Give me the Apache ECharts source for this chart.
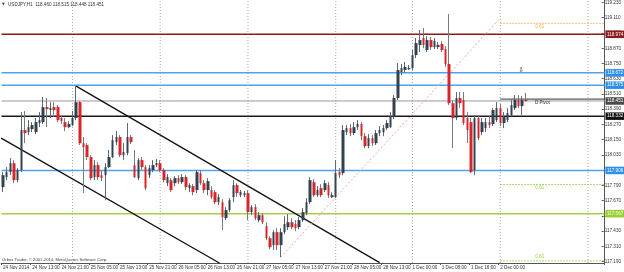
<!DOCTYPE html>
<html><head><meta charset="utf-8">
<script src="https://cdn.jsdelivr.net/npm/echarts@6/dist/echarts.min.js"></script>
<style>html,body{margin:0;padding:0;background:#fff}#c{width:624px;height:272px}</style>
</head><body><div id="c"></div>
<script>
// ---- data (USDJPY H1) ----
const opens = [117.775,117.854,117.893,117.963,117.830,117.909,118.223,118.207,118.230,118.207,
118.278,118.285,118.403,118.380,118.403,118.403,118.317,118.285,118.246,118.262,
118.317,118.442,118.120,118.105,118.011,117.854,117.948,117.869,117.869,117.932,
118.011,118.128,118.168,118.026,118.042,118.168,117.948,117.846,117.987,117.932,
117.869,117.909,117.948,117.963,117.909,117.806,117.830,117.806,117.846,117.814,
117.854,117.767,117.783,117.752,117.885,117.806,117.752,117.752,117.736,117.657,
117.657,117.532,117.595,117.697,117.791,117.712,117.712,117.728,117.579,117.618,
117.516,117.555,117.469,117.375,117.320,117.422,117.320,117.422,117.461,117.500,
117.485,117.461,117.516,117.571,117.657,117.814,117.712,117.767,117.752,117.791,
117.697,117.697,117.893,117.885,118.207,118.238,118.199,118.246,118.270,118.175,
118.097,118.160,118.120,118.199,118.207,118.238,118.246,118.325,118.474,118.678,
118.694,118.701,118.709,118.811,118.890,118.945,118.851,118.929,118.874,118.874,
118.898,118.858,118.741,118.434,118.317,118.474,118.458,118.317,118.285,117.909,
118.317,118.207,118.238,118.285,118.270,118.301,118.395,118.278,118.301,118.340,
118.395,118.458,118.411,118.460];
const closes = [117.869,117.893,117.963,117.830,117.909,118.223,118.199,118.246,118.262,118.285,
118.301,118.403,118.387,118.395,118.380,118.301,118.293,118.246,118.270,118.317,
118.442,118.120,118.089,118.011,117.846,117.948,117.854,117.846,117.932,118.011,
118.144,118.168,118.026,118.050,118.168,118.128,117.854,117.987,117.932,117.767,
117.924,117.948,117.963,117.909,117.830,117.854,117.752,117.846,117.814,117.854,
117.775,117.791,117.736,117.893,117.806,117.752,117.822,117.697,117.657,117.697,
117.540,117.595,117.673,117.791,117.728,117.736,117.728,117.579,117.618,117.532,
117.555,117.500,117.375,117.304,117.422,117.320,117.422,117.485,117.500,117.461,
117.453,117.516,117.579,117.657,117.830,117.712,117.752,117.712,117.806,117.712,
117.712,117.885,117.869,118.223,118.238,118.199,118.246,118.270,118.175,118.097,
118.160,118.120,118.199,118.223,118.238,118.278,118.325,118.474,118.694,118.709,
118.717,118.709,118.811,118.905,118.929,118.890,118.929,118.874,118.921,118.890,
118.851,118.741,118.434,118.317,118.474,118.434,118.278,118.223,117.893,118.317,
118.160,118.285,118.285,118.262,118.380,118.395,118.278,118.325,118.356,118.419,
118.458,118.411,118.458,118.451];
const lows = [117.736,117.830,117.869,117.806,117.814,117.893,118.120,118.183,118.207,118.191,
118.246,118.270,118.246,118.317,118.325,118.285,118.270,118.215,118.238,118.254,
118.301,118.105,117.728,117.987,117.830,117.830,117.830,117.822,117.673,117.924,
118.003,118.105,118.011,117.987,118.026,118.113,117.846,117.830,117.909,117.752,
117.846,117.893,117.932,117.893,117.814,117.783,117.736,117.783,117.799,117.799,
117.752,117.736,117.712,117.728,117.791,117.728,117.712,117.681,117.642,117.634,
117.438,117.516,117.579,117.657,117.697,117.697,117.697,117.516,117.555,117.516,
117.500,117.485,117.359,117.288,117.281,117.281,117.226,117.406,117.438,117.445,
117.430,117.445,117.500,117.555,117.642,117.697,117.697,117.697,117.736,117.689,
117.689,117.689,117.846,117.869,118.183,118.175,118.183,118.223,118.144,118.081,
118.081,118.097,118.105,118.175,118.175,118.223,118.238,118.309,118.458,118.654,
118.670,118.694,118.694,118.788,118.835,118.866,118.835,118.851,118.858,118.858,
118.835,118.717,118.419,118.081,118.301,118.395,118.262,118.120,117.885,117.869,
118.144,118.183,118.207,118.238,118.254,118.285,118.254,118.238,118.285,118.332,
118.380,118.395,118.340,118.448];
const highs = [117.893,117.932,118.003,117.987,117.924,118.364,118.372,118.301,118.285,118.317,
118.364,118.482,118.474,118.442,118.442,118.419,118.340,118.317,118.293,118.372,
118.568,118.450,118.168,118.120,118.026,117.987,117.971,117.909,117.963,118.066,
118.183,118.215,118.183,118.120,118.278,118.183,118.066,118.003,118.011,117.948,
117.948,117.987,117.995,117.987,117.924,117.877,117.846,117.861,117.869,117.877,
117.869,117.806,117.799,117.909,117.909,117.830,117.846,117.783,117.752,117.720,
117.681,117.618,117.689,117.830,117.806,117.752,117.744,117.752,117.634,117.642,
117.579,117.571,117.500,117.390,117.438,117.453,117.453,117.547,117.563,117.532,
117.516,117.540,117.610,117.689,117.854,117.838,117.783,117.799,117.830,117.814,
117.736,117.987,117.924,118.262,118.262,118.270,118.285,118.301,118.285,118.199,
118.191,118.183,118.223,118.254,118.262,118.301,118.364,118.497,118.748,118.741,
118.756,118.733,118.851,118.945,119.008,119.023,118.960,118.953,118.945,118.913,
118.921,118.882,119.133,118.458,118.521,118.521,118.521,118.364,118.317,118.340,
118.340,118.317,118.317,118.340,118.395,118.442,118.427,118.364,118.395,118.458,
118.497,118.497,118.489,118.515];
const timeLabels = ['24 Nov 2014','24 Nov 13:00','24 Nov 21:00','25 Nov 05:00','25 Nov 13:00','25 Nov 21:00',
'26 Nov 05:00','26 Nov 13:00','26 Nov 21:00','27 Nov 05:00','27 Nov 13:00','27 Nov 21:00',
'28 Nov 05:00','28 Nov 13:00','1 Dec 00:00','1 Dec 08:00','1 Dec 16:00','2 Dec 00:00'];
const labelStep = 8;
const slotCount = 165;
const priceTicks = ['117.190','117.310','117.430','117.550','117.670','117.790','117.910','118.030','118.150',
'118.270','118.390','118.510','118.630','118.750','118.870','118.990','119.110','119.230'];
const daySeparators = [19,43,67,91,112,136,160];
const levelPrices = [118.974,118.672,118.575,118.451,118.332,117.906,117.567];
const levelNames = ['118.974','118.672','118.575','118.451','118.332','117.906','117.567'];
const upperChannel = [[20,118.568],[103,117.183]];
const lowerChannel = [[-0.5,118.160],[59.3,117.178]];
const fiboTrend = [[76,117.226],[136,119.102]];
const fiboStart = 136, fiboEnd = 164.5;
const fiboLevels = [119.060,117.796,117.197];
const pivotPrice = 118.466;
const arrowPoint = [141.7,118.694];
const titleText = 'USDJPY,H1  118.460 118.515 118.448 118.451';
const copyright = 'Orbex Trader, \u00a9 2001-2014, MetaQuotes Software Corp.';

// ---- chart ----
const Y_MIN = 117.180, Y_MAX = 119.2433;
const cats = Array.from({length: slotCount}, (_, i) => String(i));
const ohlc = opens.map((o, i) => [o, closes[i], lows[i], highs[i]]);
const bodies = opens.map((o, i) => [o, closes[i], Math.min(o, closes[i]), Math.max(o, closes[i])]);
const levelColors = ['#8b1a1a','#4da3ee','#4da3ee','#9a9a9a','#1a1a1a','#4da3ee','#a6cf45'];
const levelBoxes = ['#8b1a1a','#2c8ff0','#2c8ff0','#4a4a4a','#111111','#2c8ff0','#9acd32'];
const FONT = 'Liberation Sans';
const chart = echarts.init(document.getElementById('c'), null, {renderer: 'canvas'});
function seg(data, color, type, width, z) {
  return {type: 'line', xAxisIndex: 1, yAxisIndex: 0, data: data, symbol: 'none', showSymbol: false, silent: true,
    animation: false, z: z || 3, lineStyle: {color: color, type: type, width: width}};
}
const tickShown = (i) => i % labelStep === 0 && i / labelStep < timeLabels.length;
const separatorSeries = daySeparators.map(d => seg([[d, Y_MIN], [d, Y_MAX]], '#a8a8a8', [1, 2], 1, 1));
const levelSeries = levelPrices.map((p, k) =>
  seg([[-0.4, p], [slotCount - 0.5, p]], levelColors[k], 'solid', k === 3 ? 1 : 1.5, 2));
const txt = (coord, text, color, size, font) => ({coord: coord, symbolSize: 0,
  label: {show: true, position: 'inside', formatter: text, fontSize: size || 4.6, fontFamily: font || FONT, color: color}});
const boxPoints = levelPrices.map((p, k) => ({coord: [slotCount - 0.5, p], symbolSize: 0,
  label: {show: true, position: 'right', distance: 1, formatter: levelNames[k], color: '#fff',
    backgroundColor: levelBoxes[k], padding: [1.5, 1.5, 1, 1.5], fontSize: 4.6, fontFamily: FONT}}));
const option = {
  animation: false,
  backgroundColor: '#ffffff',
  grid: [
    {left: -0.5, top: 0, width: 605, height: 263},
    {left: 0, top: 1.7, width: 604.5, height: 260}
  ],
  xAxis: [
    {type: 'category', gridIndex: 0, data: cats, boundaryGap: true,
     axisLine: {show: true, lineStyle: {color: '#555', width: 1}},
     axisTick: {show: true, length: 2, interval: tickShown, lineStyle: {color: '#555'}},
     axisLabel: {show: true, interval: tickShown,
       formatter: (v, i) => timeLabels[i / labelStep] || '', fontSize: 4.6, fontFamily: FONT, color: '#333', align: 'left', margin: 2},
     splitLine: {show: false}},
    {type: 'value', gridIndex: 0, min: -0.5, max: slotCount - 0.5, show: false},
    {type: 'value', gridIndex: 1, show: false}
  ],
  yAxis: [
    {type: 'value', gridIndex: 0, min: Y_MIN, max: Y_MAX, position: 'right',
     axisLine: {show: true, onZero: false, lineStyle: {color: '#555', width: 1}}, axisTick: {show: false},
     axisLabel: {show: false}, splitLine: {show: false}},
    {type: 'value', gridIndex: 1, min: 0, max: priceTicks.length - 1, interval: 1, position: 'right',
     axisLine: {show: false, onZero: false}, axisTick: {show: true, length: 2, lineStyle: {color: '#555'}},
     axisLabel: {show: true, formatter: (v) => priceTicks[v] || '', fontSize: 4.6, fontFamily: FONT, color: '#333', margin: 3},
     splitLine: {show: false}}
  ],
  series: [
    {type: 'candlestick', name: 'wicks', xAxisIndex: 0, yAxisIndex: 0, data: ohlc, barWidth: 1, z: 5,
     itemStyle: {color: '#6e6e6e', color0: '#7a7a7a', borderColor: '#5e6670', borderColor0: '#7a7a7a', borderWidth: 1}},
    {type: 'candlestick', name: 'bodies', xAxisIndex: 0, yAxisIndex: 0, data: bodies, barWidth: 3, z: 6,
     itemStyle: {color: '#34414e', color0: '#d7262b', borderColor: '#34414e', borderColor0: '#d7262b', borderWidth: 0}}
  ].concat(separatorSeries, levelSeries, [
    seg(upperChannel, '#111', 'solid', 1.3, 4),
    seg(lowerChannel, '#111', 'solid', 1.3, 4),
    seg(fiboTrend, '#f4a3a3', [2, 2], 1, 4),
    seg([[fiboStart, fiboLevels[0]], [fiboEnd, fiboLevels[0]]], '#f6b04a', [1.5, 1.5], 1, 4),
    seg([[fiboStart, fiboLevels[1]], [fiboEnd, fiboLevels[1]]], '#8fd13f', [1.5, 1.5], 1, 4),
    seg([[fiboStart, fiboLevels[2]], [fiboEnd, fiboLevels[2]]], '#8fd13f', [1.5, 1.5], 1, 4),
    Object.assign(seg([[fiboStart, pivotPrice], [fiboEnd, pivotPrice]], '#333', 'solid', 1, 4), {
      markPoint: {silent: true, animation: false, symbolSize: 0, data: [
        txt([147.5, pivotPrice - 0.03], 'D Pivot', '#333'),
        txt([146.8, fiboLevels[0] - 0.028], '0.61', '#f6b04a'),
        txt([146.8, fiboLevels[1] - 0.028], '0.61', '#8fd13f'),
        txt([146.8, fiboLevels[2] + 0.03], '0.61', '#8fd13f'),
        txt(arrowPoint, '\u21e9', '#333', 7, 'DejaVu Sans')
      ].concat(boxPoints)}})
  ]),
  graphic: [
    {type: 'text', left: 2, top: 2.5, style: {text: '\u25bc', fontSize: 3.5, fill: '#333', fontFamily: 'DejaVu Sans'}},
    {type: 'text', left: 8, top: 2.5, style: {text: titleText, fontSize: 4.6, fill: '#333', fontFamily: FONT}},
    {type: 'text', left: 2, top: 257.5, style: {text: copyright, fontSize: 4.2, fill: '#444', fontFamily: FONT}}
  ]
};
chart.setOption(option);
</script></body></html>
